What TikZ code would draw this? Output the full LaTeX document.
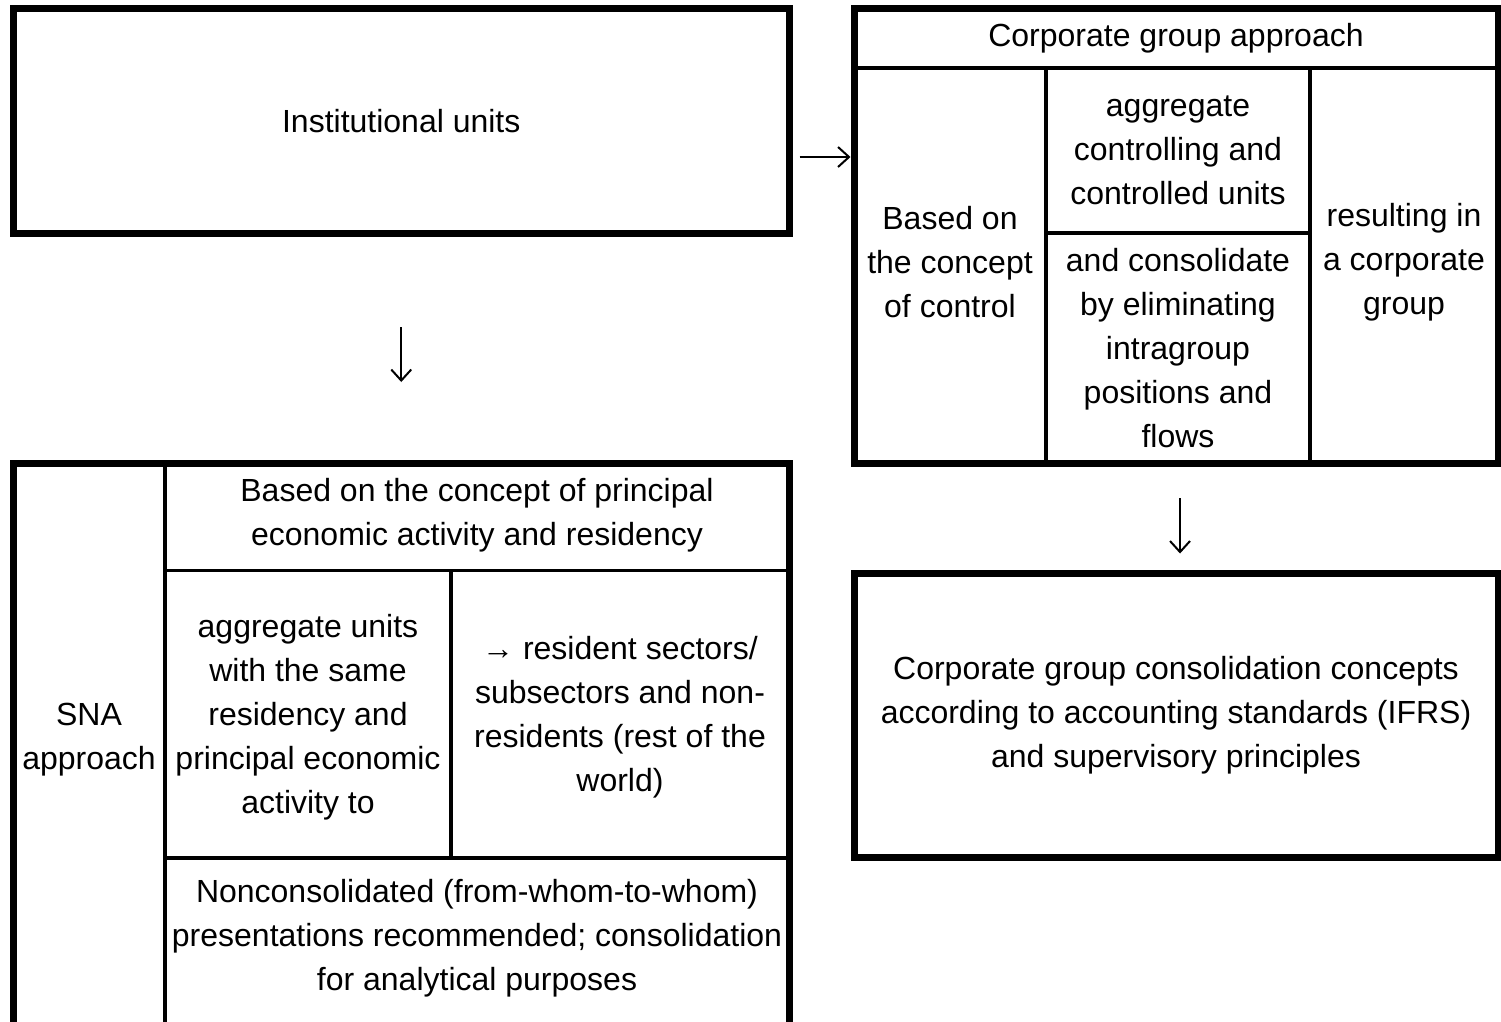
\documentclass[tikz,border=0pt]{standalone}
\usepackage{fontspec}
\setmainfont{Liberation Sans}
\usetikzlibrary{arrows.meta, positioning, calc}
\tikzset{
  frame_box/.style={rectangle, draw=black, line width=7pt, anchor=north west, inner sep=0pt, align=center},
  divider/.style={draw=black, line width=3.5pt},
  cell_text/.style={align=center, inner sep=0pt},
  arrow/.style={-{Straight Barb[length=11pt, width=20pt]}, line width=2pt, black}
}
\begin{document}
\begin{tikzpicture}[x=1pt, y=-1pt, font=\fontsize{32}{44}\selectfont]
    \clip (0,0) rectangle (1501,1021);

    % Outer frames placed at absolute coordinates
    \node[frame_box, minimum width=775.5pt, minimum height=225pt](inst) at (10,5) {Institutional units};
    \node[frame_box, minimum width=644pt, minimum height=455pt](corp) at (850.5,5) {};
    \node[frame_box, minimum width=775.5pt, minimum height=576.5pt](sna_box) at (10,460) {};
    \node[frame_box, minimum width=644pt, minimum height=284pt](consol) at (850.5,569.5) {Corporate group consolidation concepts\\according to accounting standards (IFRS)\\and supervisory principles};

    % Inner rules of the corporate group table
    \draw[divider] (854,68) -- (1498,68);
    \draw[divider] (1046,68) -- (1046,463.5);
    \draw[divider] (1310,68) -- (1310,463.5);
    \draw[divider] (1046,233) -- (1312,233);

    % Inner rules of the SNA table
    \draw[divider] (165,463.5) -- (165,1040);
    \draw[divider] (165,570.5) -- (789,570.5);
    \draw[divider] (451,570.5) -- (451,858);
    \draw[divider] (165,858) -- (789,858);

    % Cell texts, corporate group approach
    \node[cell_text](corp_title) at (1176,38) {Corporate group approach};
    \node[cell_text](control) at (950,262) {Based on\\the concept\\of control};
    \node[cell_text](aggr_units) at (1178,150) {aggregate\\controlling and\\controlled units};
    \node[cell_text](eliminate) at (1178,348) {and consolidate\\by eliminating\\intragroup\\positions and\\flows};
    \node[cell_text](result) at (1404,262) {resulting in\\a corporate\\group};

    % Cell texts, SNA approach
    \node[cell_text](sna_label) at (89,740) {SNA\\approach};
    \node[cell_text](principal) at (477,515) {Based on the concept of principal\\economic activity and residency};
    \node[cell_text](aggr_sna) at (308,717) {aggregate units\\with the same\\residency and\\principal economic\\activity to};
    \node[cell_text](sectors) at (620,717) {→ resident sectors/\\subsectors and non-\\residents (rest of the\\world)};
    \node[cell_text](noncons) at (477,938) {Nonconsolidated (from-whom-to-whom)\\presentations recommended; consolidation\\for analytical purposes};

    % Arrows between the frames
    \draw[arrow] ([xshift=7pt, yshift=-36pt]inst.east) -- ([yshift=-36pt]inst.east -| corp.west);
    \draw[arrow, shorten <=90pt, shorten >=78pt] (inst.south) -- (sna_box.north);
    \draw[arrow, shorten <=31pt, shorten >=16pt] ([xshift=4pt]corp.south) -- ([xshift=4pt]consol.north);
\end{tikzpicture}
\end{document}
